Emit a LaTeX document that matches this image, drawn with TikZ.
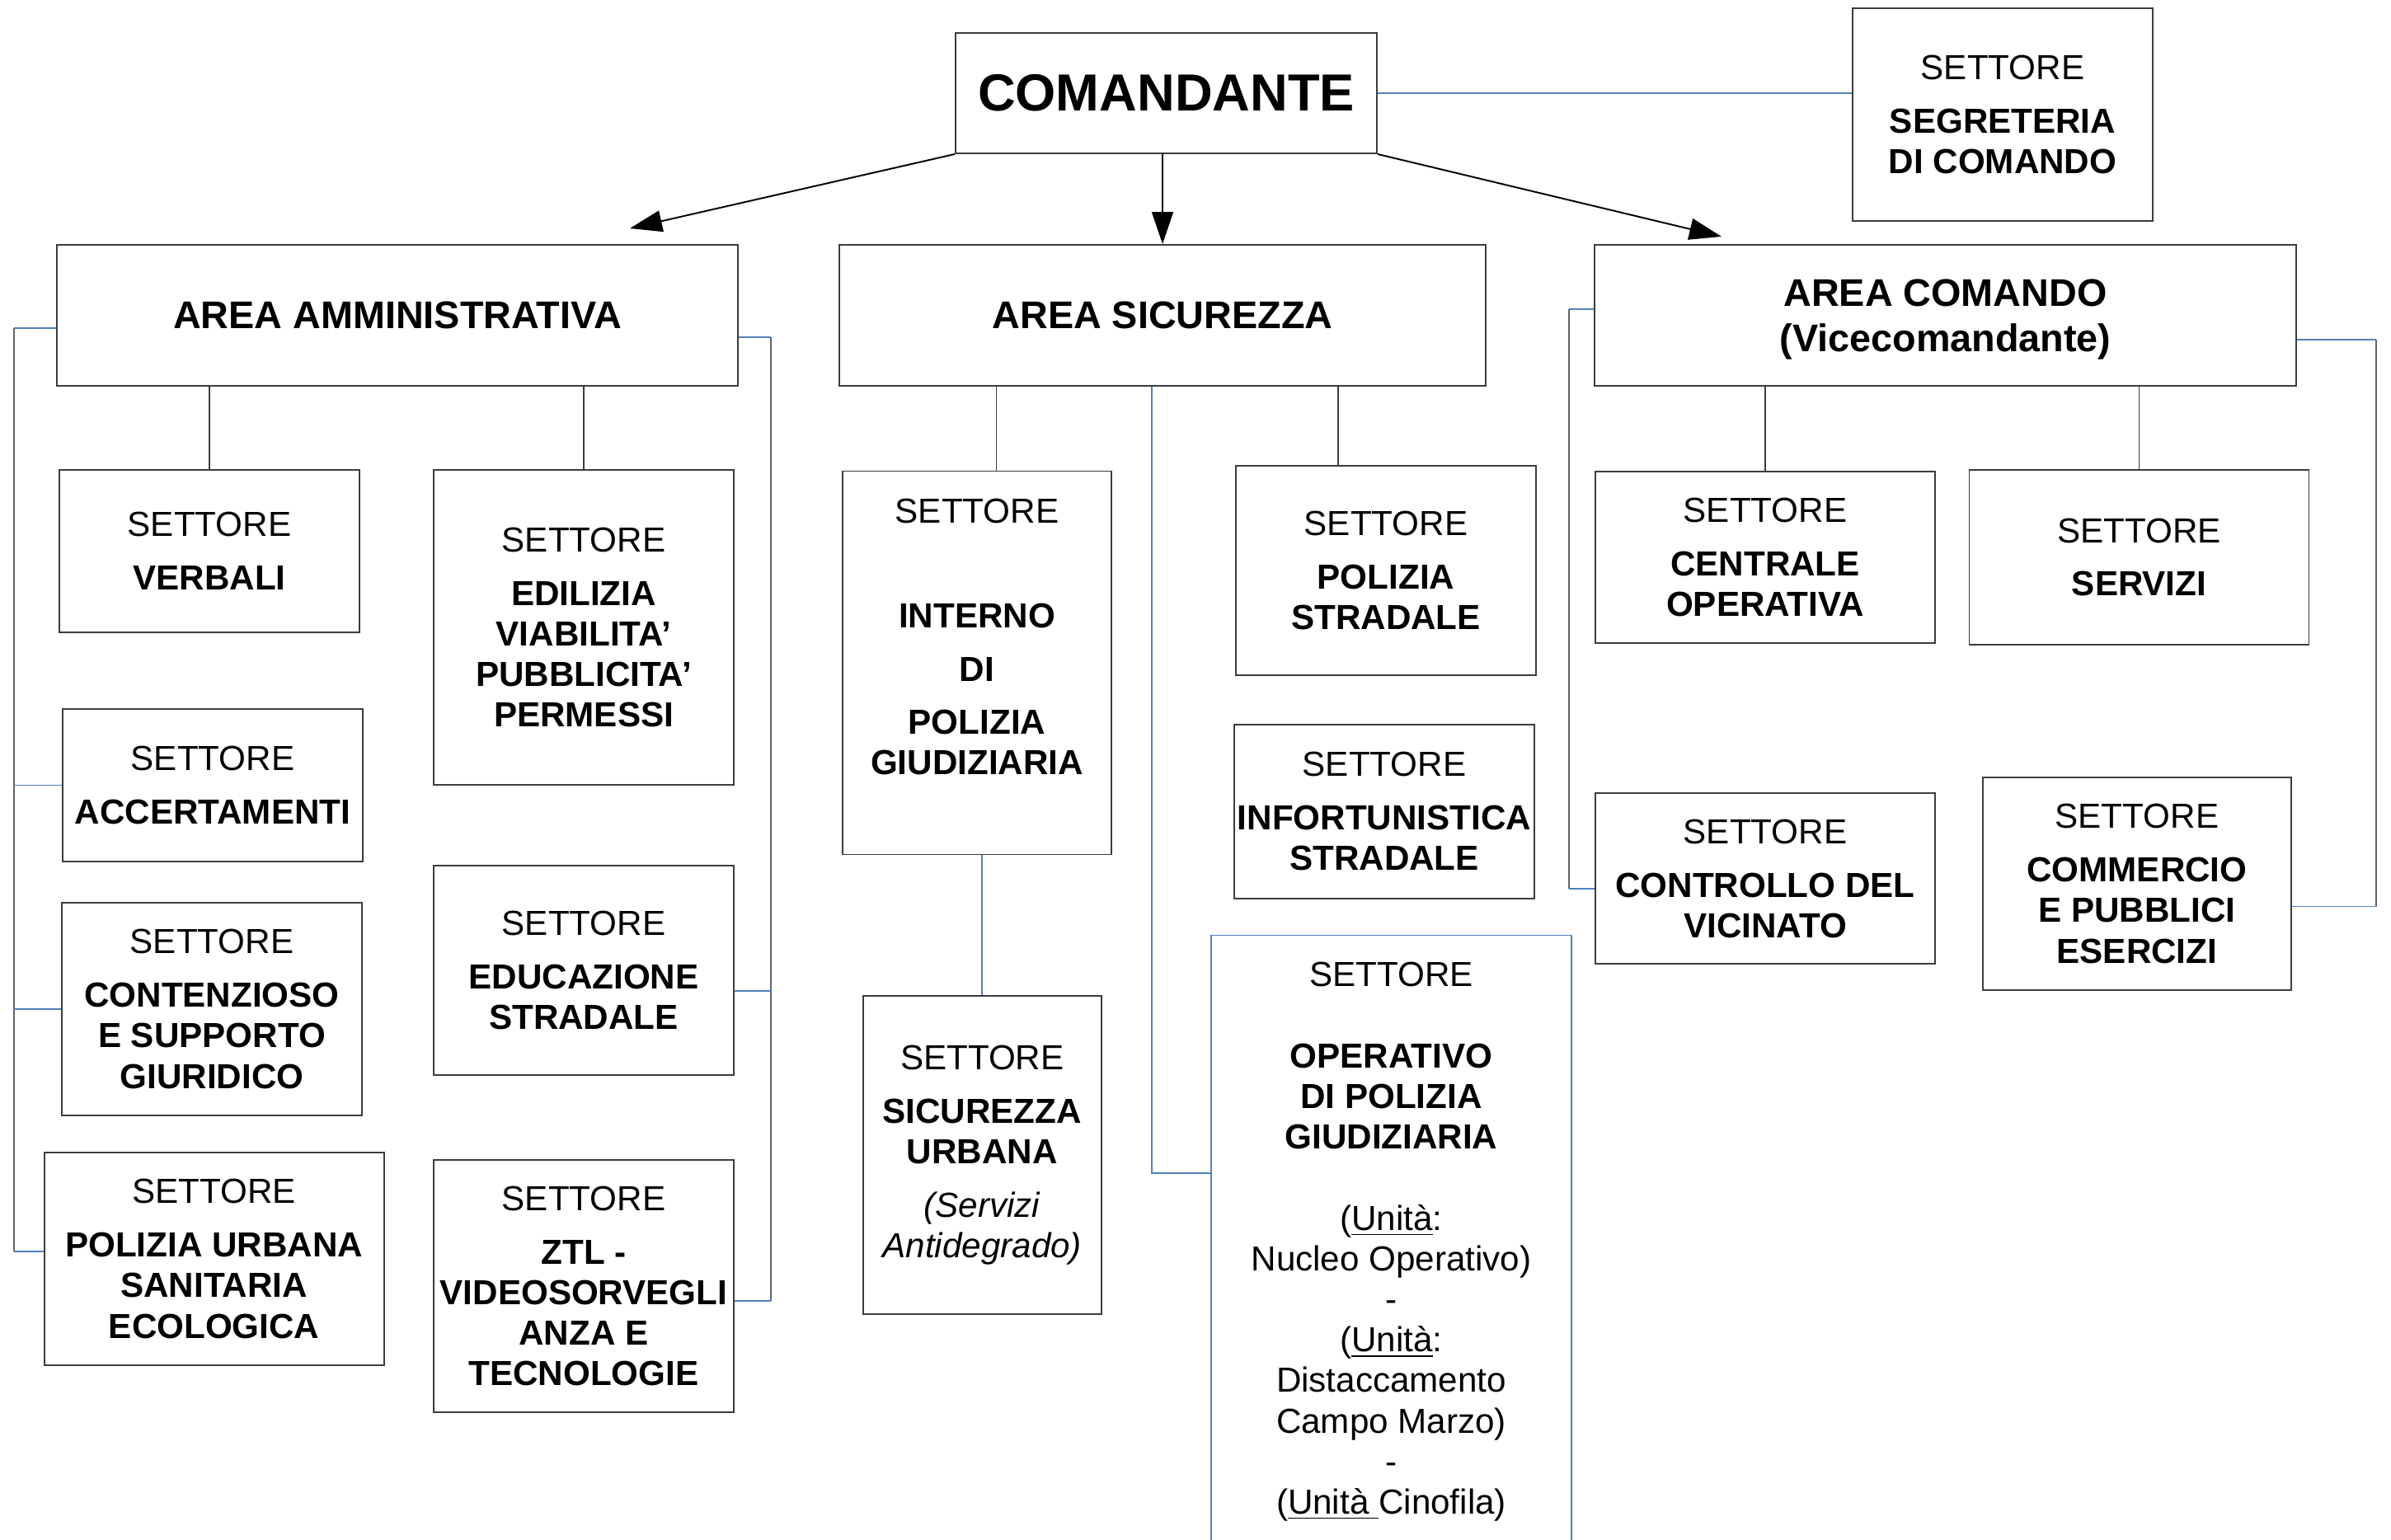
\documentclass[tikz,border=0pt]{standalone}
\usepackage{fontspec}
\setmainfont{Liberation Sans}
\usetikzlibrary{arrows.meta,positioning,calc}
\definecolor{linkblue}{RGB}{79,129,189}
\definecolor{boxline}{RGB}{60,60,60}
\definecolor{railgray}{RGB}{100,100,100}

\begin{document}
\begin{tikzpicture}[>={Triangle[length=0.39cm,width=0.26cm]},line width=0.55pt,
 sett/.style={draw=boxline,inner sep=0pt,align=center,font=\fontsize{12}{14}\selectfont},
 area/.style={draw=boxline,inner sep=0pt,align=center,minimum height=1.71cm,font=\fontsize{13.3}{15.8}\selectfont\bfseries},
 stub/.style={linkblue},
 rail/.style={railgray},
 drop/.style={boxline}]
\useasboundingbox (0,0) rectangle (29,-18.68);
\node[draw=boxline,inner sep=0pt,minimum width=5.11cm,minimum height=1.46cm,font=\fontsize{18}{21}\selectfont\bfseries] (cmd) at (14.145,-1.13) {COMANDANTE};
\node[sett,minimum width=3.64cm,minimum height=2.58cm] (seg) at (24.29,-1.39) {SETTORE\\[4.4pt]\textbf{SEGRETERIA}\\\textbf{DI COMANDO}};
\node[area,minimum width=8.26cm] (amm) at (4.82,-3.825) {AREA AMMINISTRATIVA};
\node[area,minimum width=7.835cm] (sic) at (14.10,-3.825) {AREA SICUREZZA};
\node[area,minimum width=8.51cm] (acom) at (23.595,-3.825) {AREA COMANDO\\\raisebox{0pt}[\height][0pt]{(Vicecomandante)}};
\node[sett,minimum width=3.64cm,minimum height=1.97cm] (ver) at (2.54,-6.685) {SETTORE\\[4.4pt]\textbf{VERBALI}};
\node[sett,minimum width=3.635cm,minimum height=1.85cm] (acc) at (2.58,-9.525) {SETTORE\\[4.4pt]\textbf{ACCERTAMENTI}};
\node[sett,minimum width=3.64cm,minimum height=2.575cm] (cont) at (2.57,-12.24) {SETTORE\\[4.4pt]\textbf{CONTENZIOSO}\\\textbf{E SUPPORTO}\\\textbf{GIURIDICO}};
\node[sett,minimum width=4.12cm,minimum height=2.58cm] (pu) at (2.596,-15.27) {SETTORE\\[4.4pt]\textbf{POLIZIA URBANA}\\\textbf{SANITARIA}\\\textbf{ECOLOGICA}};
\node[sett,minimum width=3.64cm,minimum height=3.82cm] (edi) at (7.08,-7.61) {SETTORE\\[4.4pt]\textbf{EDILIZIA}\\\textbf{VIABILITA’}\\\textbf{PUBBLICITA’}\\\textbf{PERMESSI}};
\node[sett,minimum width=3.64cm,minimum height=2.54cm] (edu) at (7.08,-11.77) {SETTORE\\[4.4pt]\textbf{EDUCAZIONE}\\\textbf{STRADALE}};
\node[sett,minimum width=3.64cm,minimum height=3.06cm] (ztl) at (7.08,-15.60) {SETTORE\\[4.4pt]\textbf{ZTL -}\\\textbf{VIDEOSORVEGLI}\\\textbf{ANZA E}\\\textbf{TECNOLOGIE}};
\node[sett,minimum width=3.265cm,minimum height=4.65cm] (int) at (11.85,-8.04) {SETTORE\\[22.2pt]\textbf{INTERNO}\\[4.4pt]\textbf{DI}\\[4.4pt]\textbf{POLIZIA}\\\textbf{GIUDIZIARIA}\\[4pt]\mbox{}};
\node[sett,minimum width=2.894cm,minimum height=3.865cm] (sur) at (11.913,-14.01) {SETTORE\\[4.4pt]\textbf{SICUREZZA}\\\textbf{URBANA}\\[4.4pt]\textit{(Servizi}\\\textit{Antidegrado)}};
\node[sett,minimum width=3.641cm,minimum height=2.54cm] (ps) at (16.81,-6.924) {SETTORE\\[4.4pt]\textbf{POLIZIA}\\\textbf{STRADALE}};
\node[sett,minimum width=3.636cm,minimum height=2.112cm] (inf) at (16.79,-9.843) {SETTORE\\[4.4pt]\textbf{INFORTUNISTICA}\\\textbf{STRADALE}};
\node[sett,draw=linkblue,anchor=north,minimum width=4.374cm,minimum height=8.84cm] (op) at (16.875,-11.335) {SETTORE\\[14pt]\textbf{OPERATIVO}\\\textbf{DI POLIZIA}\\\textbf{GIUDIZIARIA}\\[14pt](\underline{Unità}:\\Nucleo Operativo)\\-\\(\underline{Unità}:\\Distaccamento\\Campo Marzo)\\-\\(\underline{Unità\ }Cinofila)\\[1cm]\mbox{}};
\node[sett,minimum width=4.114cm,minimum height=2.077cm] (cen) at (21.41,-6.763) {SETTORE\\[4.4pt]\textbf{CENTRALE}\\\textbf{OPERATIVA}};
\node[sett,minimum width=4.12cm,minimum height=2.112cm] (ser) at (25.945,-6.76) {SETTORE\\[4.4pt]\textbf{SERVIZI}};
\node[sett,minimum width=4.114cm,minimum height=2.072cm] (ctl) at (21.41,-10.658) {SETTORE\\[4.4pt]\textbf{CONTROLLO DEL}\\\textbf{VICINATO}};
\node[sett,minimum width=3.738cm,minimum height=2.571cm] (comm) at (25.919,-10.72) {SETTORE\\[4.4pt]\textbf{COMMERCIO}\\\textbf{E PUBBLICI}\\\textbf{ESERCIZI}};

\coordinate (tipA) at (7.64,-2.77);
\coordinate (tipC) at (20.88,-2.87);
\draw[->,black] (cmd.south west) -- (tipA);
\draw[->,black] (sic.north |- cmd.south) -- (sic.north);
\draw[->,black] (cmd.south east) -- (tipC);
\draw[stub] (cmd.east) -- (seg.west |- cmd.east);

\coordinate (aL) at (0.17,-3.98);
\coordinate (puL) at ([yshift=0.09cm]pu.west);
\draw[stub] (amm.west |- aL) -- (aL);
\draw[rail] (aL) -- (aL |- puL);
\draw[stub] (aL |- acc.west) -- (acc.west);
\draw[stub] (aL |- cont.west) -- (cont.west);
\draw[stub] (aL |- puL) -- (puL);
\coordinate (aR) at (9.35,-4.09);
\coordinate (eduR) at ([yshift=-0.25cm]edu.east);
\coordinate (ztlR) at ([yshift=-0.18cm]ztl.east);
\draw[stub] (amm.east |- aR) -- (aR);
\draw[rail] (aR) -- (aR |- ztlR);
\draw[stub] (eduR) -- (aR |- eduR);
\draw[stub] (ztlR) -- (aR |- ztlR);
\draw[drop] (ver.north) -- (ver.north |- amm.south);
\draw[drop] (edi.north) -- (edi.north |- amm.south);

\coordinate (intT) at ([xshift=0.235cm]int.north);
\coordinate (psT) at ([xshift=-0.58cm]ps.north);
\draw[drop] (intT) -- (intT |- sic.south);
\draw[drop] (psT) -- (psT |- sic.south);
\draw[stub] (int.south -| sur.north) -- (sur.north);
\coordinate (sR) at (13.97,-14.23);
\draw[stub] (sR |- sic.south) -- (sR) -- (op.west |- sR);

\coordinate (cL) at (19.03,-3.75);
\coordinate (cR) at (28.82,-4.12);
\coordinate (ctlL) at ([yshift=-0.118cm]ctl.west);
\coordinate (commR) at ([yshift=-0.275cm]comm.east);
\draw[stub] (acom.west |- cL) -- (cL);
\draw[rail] (cL) -- (cL |- ctlL);
\draw[stub] (cL |- ctlL) -- (ctlL);
\draw[stub] (acom.east |- cR) -- (cR);
\draw[rail] (cR) -- (cR |- commR);
\draw[stub] (commR) -- (cR |- commR);
\draw[drop] (cen.north) -- (cen.north |- acom.south);
\draw[drop] (ser.north) -- (ser.north |- acom.south);
\end{tikzpicture}
\end{document}
